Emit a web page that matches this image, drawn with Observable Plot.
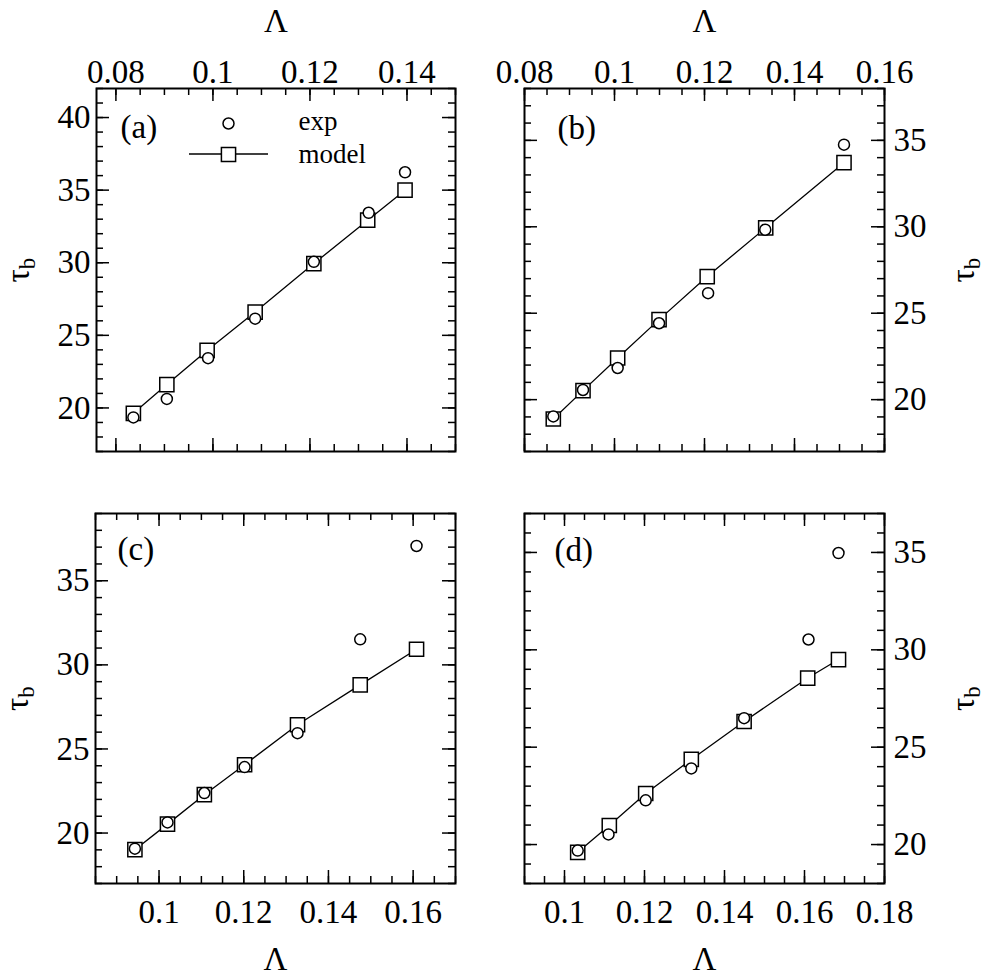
<!DOCTYPE html>
<html><head><meta charset="utf-8">
<script src="https://cdn.jsdelivr.net/npm/d3@7"></script>
<script src="https://cdn.jsdelivr.net/npm/@observablehq/plot@0.6"></script>
<style>
body{margin:0;background:#fff}
#fig{position:relative;width:984px;height:976px;background:#fff}
.p{position:absolute}
.p svg{overflow:visible}
.p svg text{font-family:"Liberation Serif","Times New Roman",Times,serif !important}
</style>
</head><body><div id="fig"></div>
<script>
// ---- data ----
const aLambdaModel = [0.0836, 0.0905, 0.0988, 0.1087, 0.1208, 0.1319, 0.1396];
const aTauModel    = [19.63, 21.61, 23.96, 26.60, 29.94, 32.93, 35.00];
const aLambdaExp   = [0.0836, 0.0905, 0.0990, 0.1087, 0.1208, 0.1321, 0.1396];
const aTauExp      = [19.35, 20.62, 23.43, 26.15, 30.06, 33.44, 36.23];

const bLambdaModel = [0.0864, 0.0930, 0.1007, 0.1099, 0.1206, 0.1336, 0.1510];
const bTauModel    = [18.88, 20.52, 22.41, 24.63, 27.12, 29.94, 33.71];
const bLambdaExp   = [0.0864, 0.0930, 0.1007, 0.1099, 0.1208, 0.1335, 0.1510];
const bTauExp      = [19.03, 20.56, 21.83, 24.42, 26.16, 29.83, 34.75];

const cLambdaModel = [0.0943, 0.1020, 0.1107, 0.1202, 0.1327, 0.1475, 0.1608];
const cTauModel    = [19.01, 20.53, 22.28, 24.06, 26.44, 28.81, 30.93];
const cLambdaExp   = [0.0943, 0.1020, 0.1107, 0.1202, 0.1327, 0.1475, 0.1608];
const cTauExp      = [19.07, 20.63, 22.38, 23.92, 25.94, 31.52, 37.07];

const dLambdaModel = [0.1033, 0.1112, 0.1203, 0.1317, 0.1449, 0.1608, 0.1685];
const dTauModel    = [19.60, 20.98, 22.62, 24.37, 26.32, 28.55, 29.50];
const dLambdaExp   = [0.1033, 0.1110, 0.1203, 0.1317, 0.1449, 0.1610, 0.1685];
const dTauExp      = [19.69, 20.52, 22.27, 23.91, 26.49, 30.53, 34.97];

const aXTicks = [0.08, 0.10, 0.12, 0.14];
const bXTicks = [0.08, 0.10, 0.12, 0.14, 0.16];
const cXTicks = [0.10, 0.12, 0.14, 0.16];
const dXTicks = [0.10, 0.12, 0.14, 0.16, 0.18];
const aYTicks = [20, 25, 30, 35, 40];
const bYTicks = [20, 25, 30, 35];
const cYTicks = [20, 25, 30, 35];
const dYTicks = [20, 25, 30, 35];

const panelTags = ["(a)", "(b)", "(c)", "(d)"];
const legendLabels = ["exp", "model"];
const xLabel = "Λ";
const yLabel = "τb";

// ---- layout ----
const FONT = "'Liberation Serif','Times New Roman',Times,serif";
const FS = 33;
const W = 492;
const fig = document.getElementById("fig");

function minor(domain, step) {
  const k = 1 / step;
  return d3.range(Math.ceil(domain[0] * k - 1e-6), Math.floor(domain[1] * k + 1e-6) + 1).map(i => i / k);
}

function panel(o) {
  const [fx0, fx1, fy0, fy1] = o.frame;
  const mL = fx0 - o.left, mR = o.left + W - fx1, mT = fy0 - o.top, mB = o.top + o.h - fy1;
  const fw = fx1 - fx0, fh = fy1 - fy0;
  const model = o.lm.map((x, i) => ({x, y: o.tm[i]}));
  const exp = o.le.map((x, i) => ({x, y: o.te[i]}));
  const mx = minor(o.xd, 0.005), my = minor(o.yd, 1);
  const sw = 1.5;
  const marks = [
    // inward ticks on all four sides
    Plot.tickX(mx, {x: d => d, insetBottom: fh - 7, strokeWidth: sw}),
    Plot.tickX(mx, {x: d => d, insetTop: fh - 7, strokeWidth: sw}),
    Plot.tickX(o.xt, {x: d => d, insetBottom: fh - 13, strokeWidth: sw}),
    Plot.tickX(o.xt, {x: d => d, insetTop: fh - 13, strokeWidth: sw}),
    Plot.tickY(my, {y: d => d, insetRight: fw - 7, strokeWidth: sw}),
    Plot.tickY(my, {y: d => d, insetLeft: fw - 7, strokeWidth: sw}),
    Plot.tickY(o.yt, {y: d => d, insetRight: fw - 13, strokeWidth: sw}),
    Plot.tickY(o.yt, {y: d => d, insetLeft: fw - 13, strokeWidth: sw}),
    Plot.frame({stroke: "black", strokeWidth: 2}),
    Plot.axisX({anchor: o.xa, ticks: o.xt, tickSize: 0, tickPadding: o.xa === "top" ? 6 : 16,
      tickFormat: d => String(+d.toFixed(2)), fontSize: FS, fontFamily: FONT, label: null}),
    Plot.axisY({anchor: o.ya, ticks: o.yt, tickSize: 0, tickPadding: o.ya === "left" ? 6 : 9,
      tickFormat: d => String(d), fontSize: FS, fontFamily: FONT, label: null}),
    Plot.text([xLabel], {text: d => d, frameAnchor: o.xa, dy: o.xa === "top" ? -57 : 86,
      lineAnchor: "bottom", fontSize: FS, fontFamily: FONT}),
    Plot.text([yLabel], {text: d => d, frameAnchor: o.ya, dx: o.ya === "left" ? -68 : 89,
      rotate: -90, lineAnchor: "bottom", textAnchor: "middle", fontSize: FS, fontFamily: FONT}),
    Plot.text([o.tag], {text: d => d, frameAnchor: "top-left", dx: o.tagDx, dy: o.tagDy,
      textAnchor: "start", lineAnchor: "bottom", fontSize: FS, fontFamily: FONT}),
    Plot.line(model, {x: "x", y: "y", stroke: "black", strokeWidth: 1.3}),
    Plot.dot(model, {x: "x", y: "y", symbol: "square", r: 8, fill: "white", stroke: "black", strokeWidth: 1.5}),
    Plot.dot(exp, {x: "x", y: "y", r: 5.5, fill: "white", stroke: "black", strokeWidth: 1.5})
  ];
  if (o.legend) {
    marks.push(
      (index, scales, values, dims) => {
        const l = d3.create("svg:line")
          .attr("x1", dims.marginLeft + 93).attr("x2", dims.marginLeft + 172)
          .attr("y1", dims.marginTop + 66).attr("y2", dims.marginTop + 66)
          .attr("stroke", "black").attr("stroke-width", 1.3);
        return l.node();
      },
      Plot.dot([0], {frameAnchor: "top-left", dx: 132, dy: 35, r: 5.5, fill: "white", stroke: "black", strokeWidth: 1.5}),
      Plot.dot([0], {frameAnchor: "top-left", dx: 132, dy: 66, symbol: "square", r: 8, fill: "white", stroke: "black", strokeWidth: 1.5}),
      Plot.text([legendLabels[0]], {text: d => d, frameAnchor: "top-left", dx: 202, dy: 41, textAnchor: "start", lineAnchor: "bottom", fontSize: 27, fontFamily: FONT}),
      Plot.text([legendLabels[1]], {text: d => d, frameAnchor: "top-left", dx: 202, dy: 74, textAnchor: "start", lineAnchor: "bottom", fontSize: 27, fontFamily: FONT})
    );
  }
  const svg = Plot.plot({
    width: W, height: o.h,
    marginLeft: mL, marginRight: mR, marginTop: mT, marginBottom: mB,
    x: {domain: o.xd, label: null},
    y: {domain: o.yd, label: null},
    style: {fontFamily: FONT, color: "black", background: "white", overflow: "visible"},
    marks
  });
  svg.querySelectorAll("text").forEach(t => {
    t.setAttribute("font-family", FONT);
    t.style.fontVariant = "normal";
    t.style.fontVariantNumeric = "normal";
    // subscript b in the τ_b labels
    if (t.textContent === yLabel && t.childNodes.length === 1) {
      t.textContent = "τ";
      const ts = document.createElementNS("http://www.w3.org/2000/svg", "tspan");
      ts.setAttribute("font-size", "23");
      ts.setAttribute("dy", "6");
      ts.textContent = "b";
      t.appendChild(ts);
    }
  });
  svg.querySelectorAll("g").forEach(g => {
    if (g.getAttribute("font-variant")) g.removeAttribute("font-variant");
  });
  const div = document.createElement("div");
  div.className = "p";
  div.style.left = o.left + "px";
  div.style.top = o.top + "px";
  div.appendChild(svg);
  fig.appendChild(div);
}

panel({left: 0, top: 0, h: 470, frame: [96, 455, 88, 451], xd: [0.076, 0.15], yd: [17, 42],
  xt: aXTicks, yt: aYTicks, xa: "top", ya: "left", lm: aLambdaModel, tm: aTauModel, le: aLambdaExp, te: aTauExp,
  tag: panelTags[0], tagDx: 24, tagDy: 49, legend: true});
panel({left: 492, top: 0, h: 470, frame: [524, 884, 88, 451], xd: [0.08, 0.16], yd: [17, 38],
  xt: bXTicks, yt: bYTicks, xa: "top", ya: "right", lm: bLambdaModel, tm: bTauModel, le: bLambdaExp, te: bTauExp,
  tag: panelTags[1], tagDx: 33, tagDy: 50});
panel({left: 0, top: 470, h: 506, frame: [95, 455, 513, 883], xd: [0.085, 0.17], yd: [17, 39],
  xt: cXTicks, yt: cYTicks, xa: "bottom", ya: "left", lm: cLambdaModel, tm: cTauModel, le: cLambdaExp, te: cTauExp,
  tag: panelTags[2], tagDx: 22, tagDy: 46});
panel({left: 492, top: 470, h: 506, frame: [524, 884, 513, 883], xd: [0.09, 0.18], yd: [18, 37],
  xt: dXTicks, yt: dYTicks, xa: "bottom", ya: "right", lm: dLambdaModel, tm: dTauModel, le: dLambdaExp, te: dTauExp,
  tag: panelTags[3], tagDx: 30, tagDy: 47});
</script>
</body></html>
